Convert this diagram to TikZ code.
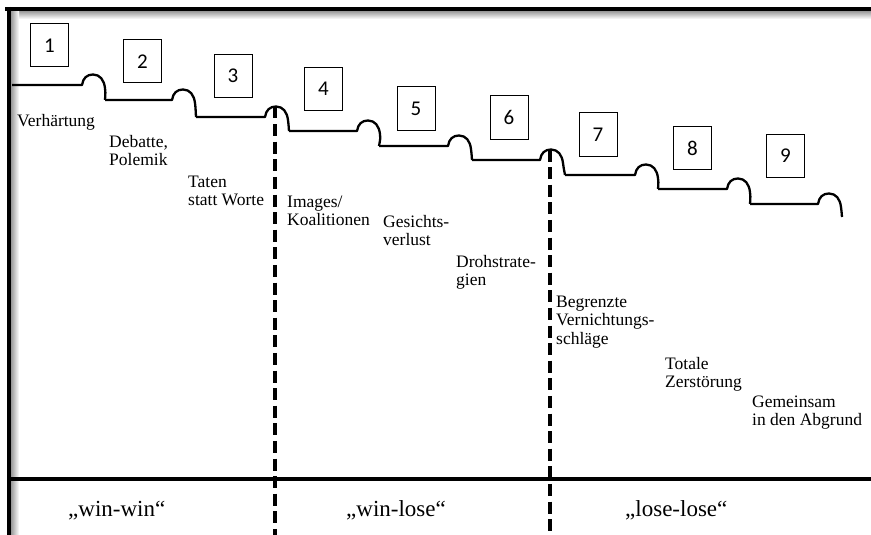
\documentclass[tikz,border=0pt]{standalone}
\usepackage{fontspec}
\setmainfont{Liberation Serif}
\newfontfamily\digitfont{Carlito}
\newcommand\labtxt[1]{\parbox[t]{5cm}{\raggedright #1}}
\begin{document}
\begin{tikzpicture}[x=1pt,y=-1pt,
  stair/.style={line width=2.3pt, line join=round},
  numbox/.style={draw, line width=1pt, minimum width=38pt, minimum height=43pt, inner sep=0pt, font=\digitfont\fontsize{21}{21}\selectfont},
  lbl/.style={anchor=base west, inner sep=0pt, font=\fontsize{17.5}{18.5}\selectfont},
  biglbl/.style={anchor=base west, inner sep=0pt, font=\fontsize{23}{26}\selectfont},
  divider/.style={line width=4pt, dash pattern=on 12pt off 5.6pt},
  border/.style={line width=4pt}]
\useasboundingbox (0,0) rectangle (871,535);
\fill[white] (0,0) rectangle (871,535);
% frame shadow
\shade[top color=black!40, bottom color=white] (11,11) rectangle (871,19);
\shade[left color=black!40, right color=white] (11,11) rectangle (19,535);
% frame
\coordinate (ftl) at (9,9);
\coordinate (ftr) at (871,9);
\coordinate (fbl) at (9,535);
\draw[border] (5,9) -- (ftr);
\draw[border] (9,7) -- (fbl);
% base line
\coordinate (bl) at (9,479);
\coordinate (br) at (871,479);
\draw[border] (bl) -- (br);
% staircase
\foreach \xs/\y/\xo/\xe/\yn/\i in {12/85/82/105/100/1, 105/100/172/196/117/2, 196/117/265/289/131/3, 289/131/357/379/146/4, 379/146/448/472/160/5, 472/160/540/565/175/6, 565/175/635/658/189/7, 658/189/727/750/204/8, 750/204/818/842/217/9}{
  \coordinate (pk\i) at ({\xo+10},{\y-10.5});
  \draw[stair] (\xs,\y) -- (\xo,\y)
    .. controls ({\xo+1},{\y-7}) and ({\xo+5},{\y-10.5}) .. ({\xo+11},{\y-10.5})
    .. controls ({\xo+18},{\y-10.5}) and ({\xo+22},{\y-5}) .. ({\xo+23},{\y+3})
    .. controls ({\xo+23.5},{\y+7}) .. (\xe,\yn);
}
% dividers
\coordinate (d1end) at (275,535);
\coordinate (d2end) at (550,535);
\draw[divider] (pk3) -- (pk3 |- d1end);
\draw[divider] (pk6) -- (pk6 |- d2end);
% number boxes
\node[numbox] (b1) at (49.5,45.5) {1};
\node[numbox] (b2) at (142.5,61.5) {2};
\node[numbox] (b3) at (233,76) {3};
\node[numbox] (b4) at (323.5,89) {4};
\node[numbox] (b5) at (416,108.5) {5};
\node[numbox] (b6) at (509,117.5) {6};
\node[numbox] (b7) at (598,134.5) {7};
\node[numbox] (b8) at (692.5,148) {8};
\node[numbox] (b9) at (785.5,156) {9};
% stage labels
\node[lbl] (l1) at (17,126) {\labtxt{Verhärtung}};
\node[lbl] (l2) at (109,147) {\labtxt{Debatte,\\Polemik}};
\node[lbl] (l3) at (188,187) {\labtxt{Taten\\statt Worte}};
\node[lbl] (l4) at (287,207) {\labtxt{Images/\\Koalitionen}};
\node[lbl] (l5) at (383,227) {\labtxt{Gesichts-\\verlust}};
\node[lbl] (l6) at (456,267) {\labtxt{Drohstrate-\\gien}};
\node[lbl] (l7) at (556,307) {\labtxt{Begrenzte\\Vernichtungs-\\schläge}};
\node[lbl] (l8) at (665,369) {\labtxt{Totale\\Zerstörung}};
\node[lbl] (l9) at (752,407) {\labtxt{Gemeinsam\\in den Abgrund}};
% outcome labels
\node[biglbl] (o1) at (68,516) {„win-win“};
\node[biglbl] (o2) at (346,516) {„win-lose“};
\node[biglbl] (o3) at (625,516) {„lose-lose“};
\end{tikzpicture}
\end{document}
